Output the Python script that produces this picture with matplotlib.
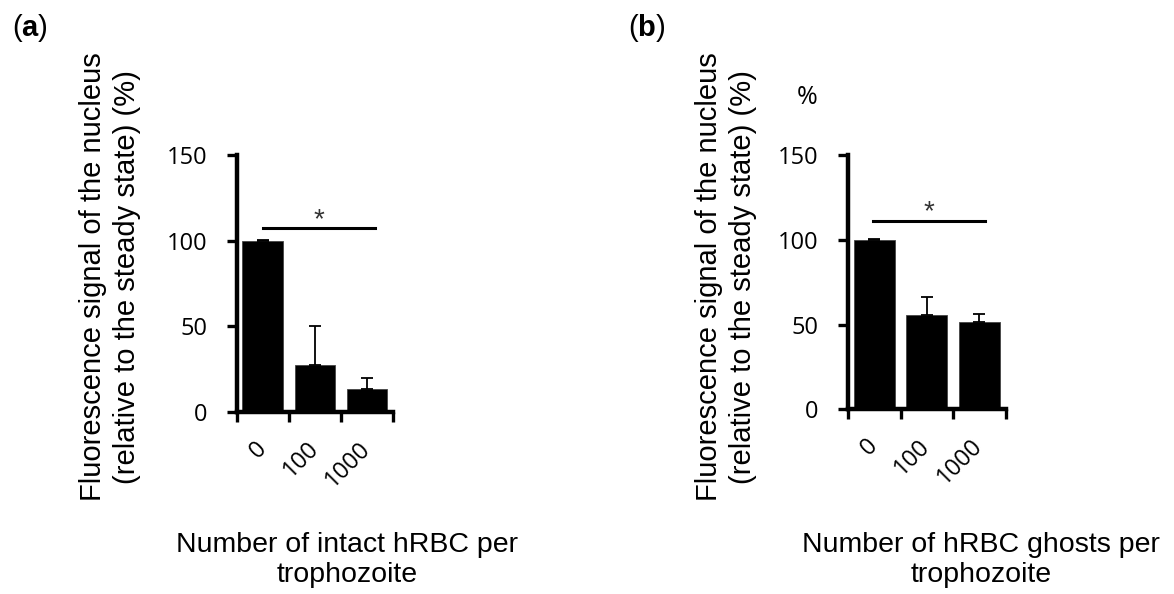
import matplotlib
matplotlib.use('Agg')
import matplotlib.pyplot as plt
from matplotlib.ticker import FixedLocator, NullFormatter

plt.rcParams['font.family'] = ['Liberation Sans', 'DejaVu Sans']
plt.rcParams['mathtext.fontset'] = 'custom'
plt.rcParams['mathtext.rm'] = 'Liberation Sans'
plt.rcParams['mathtext.bf'] = 'Liberation Sans:bold'

# data
categories = ['0', '100', '1000']
intact_mean = [99.5, 27.1, 13.4]
intact_err = [0.8, 23.0, 6.1]
ghost_mean = [99.6, 55.6, 51.3]
ghost_err = [0.6, 10.4, 4.9]
yticks = [0, 50, 100, 150]

# significance bars: (x start, x end, height)
sig_intact = (0.0, 2.16, 107.2)
sig_ghost = (-0.03, 2.11, 111.1)

ylabel = 'Fluorescence signal of the nucleus\n(relative to the steady state) (%)'
xlabel_a = 'Number of intact hRBC per\ntrophozoite'
xlabel_b = 'Number of hRBC ghosts per\ntrophozoite'

W, H = 1174, 594
TICK_FONT = 'Open Sans'


def px(x, y):
    return x / W, 1 - y / H


def draw_panel(fig, rect, means, errs, sig):
    ax = fig.add_axes(rect)
    x = list(range(len(means)))
    ax.bar(x, means, width=0.78, color='black', edgecolor='#444444',
           linewidth=0.6, zorder=2)
    ax.errorbar(x, means, yerr=[[0] * len(errs), errs], fmt='none',
                ecolor='black', elinewidth=1.3, capsize=4, capthick=1.3,
                zorder=3)

    ax.set_xlim(-0.5, len(means) - 0.5)
    ax.set_ylim(0, 150)
    for side in ('top', 'right'):
        ax.spines[side].set_visible(False)
    for side in ('left', 'bottom'):
        ax.spines[side].set_linewidth(3.2)

    ax.set_yticks(yticks)
    ax.tick_params(axis='y', direction='out', length=7, width=2.4, pad=14,
                   labelsize=17)
    # boundary ticks without labels, category labels on minor ticks
    ax.xaxis.set_major_locator(FixedLocator([i - 0.5 for i in range(len(means) + 1)]))
    ax.xaxis.set_major_formatter(NullFormatter())
    ax.tick_params(axis='x', which='major', direction='out', length=7, width=2.4)
    ax.set_xticks(x, minor=True)
    ax.set_xticklabels(categories, minor=True)
    ax.tick_params(axis='x', which='minor', length=0, pad=24, labelsize=17)
    for lab in ax.get_xticklabels(minor=True):
        lab.set_rotation(45)
        lab.set_ha('right')
        lab.set_va('center')
        lab.set_rotation_mode('anchor')
        lab.set_fontfamily(TICK_FONT)
    for lab in ax.get_yticklabels():
        lab.set_fontfamily(TICK_FONT)

    x0, x1, y = sig
    ax.plot([x0, x1], [y, y], color='black', linewidth=2.2, clip_on=False)
    ax.annotate('*', xy=((x0 + x1) / 2, y), xytext=(0, 1), textcoords='offset points',
                ha='center', va='baseline', fontsize=20, color='#333333')
    return ax


fig = plt.figure(figsize=(11.74, 5.94), dpi=100)

ax_a = draw_panel(fig, [236.7 / W, (H - 411.7) / H, 156.5 / W, 256.7 / H],
                  intact_mean, intact_err, sig_intact)
ax_b = draw_panel(fig, [848.0 / W, (H - 409.3) / H, 157.5 / W, 254.3 / H],
                  ghost_mean, ghost_err, sig_ghost)

# axis titles
fig.text(*px(110, 277), ylabel, rotation=90, ha='center', va='center',
         multialignment='center', fontsize=21, linespacing=1.3)
fig.text(*px(726, 277), ylabel, rotation=90, ha='center', va='center',
         multialignment='center', fontsize=21, linespacing=1.3)
fig.text(*px(347, 560), xlabel_a, ha='center', va='center',
         multialignment='center', fontsize=20.5, linespacing=1.15)
fig.text(*px(981, 560), xlabel_b, ha='center', va='center',
         multialignment='center', fontsize=20.5, linespacing=1.15)

fig.text(*px(807, 98), '%', ha='center', va='center', fontsize=18,
         family=TICK_FONT)

# panel letters
fig.text(*px(30, 28), r'($\mathbf{a}$)', ha='center', va='center', fontsize=21)
fig.text(*px(647, 28), r'($\mathbf{b}$)', ha='center', va='center', fontsize=21)

fig.savefig('out.png', dpi=100)
